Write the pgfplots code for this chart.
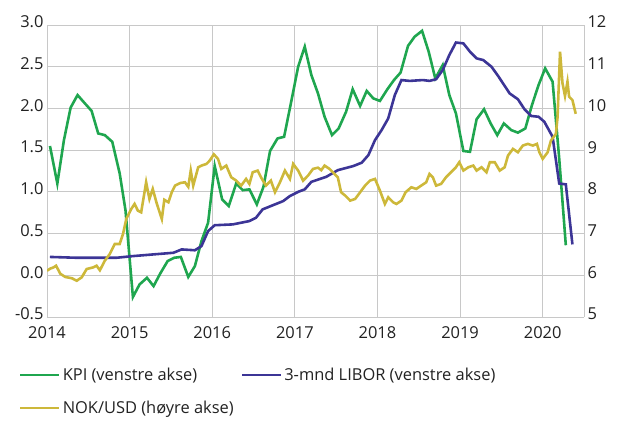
\documentclass[border=0pt]{standalone}
\usepackage{pgfplots}
\pgfplotsset{compat=1.18}
\usepackage{fontspec}
\setmainfont{Open Sans}
\definecolor{kpi}{HTML}{1FA64F}
\definecolor{libor}{HTML}{3C3596}
\definecolor{nok}{HTML}{CDB83A}
\definecolor{gridc}{HTML}{C8C8C8}
\definecolor{txt}{HTML}{222222}
\begin{document}
\begin{tikzpicture}
\pgfplotsset{
  base/.style={
    at={(0,0)}, anchor=south west,
    scale only axis, width=537bp, height=292bp,
    xmin=2014, xmax=2020.5,
    font=\fontsize{16.5}{19}\selectfont\color{txt},
    /pgf/number format/assume math mode=true,
    tick style={draw=none},
    axis line style={draw=gridc, line width=0.8pt},
  }
}
\begin{axis}[base,
  ymin=-0.5, ymax=3,
  ytick={-0.5,0,0.5,1,1.5,2,2.5,3},
  yticklabel style={yshift=3bp, /pgf/number format/.cd, fixed, fixed zerofill, precision=1},
  xtick={2014,2015,2016,2017,2018,2019,2020},
  xticklabels={2014,2015,2016,2017,2018,2019,2020},
  xticklabel style={yshift=-6bp},
  grid=major, major grid style={draw=gridc, line width=0.8pt},
  axis y line*=left, axis x line*=bottom,
  legend columns=2,
  legend style={at={(-31bp,-47bp)}, anchor=north west, draw=none, fill=none,
    font=\fontsize{16.5}{19}\selectfont\color{txt},
    /tikz/every even column/.append style={column sep=5bp},
    row sep=15bp},
  legend cell align=left,
  legend image code/.code={\draw[#1, line width=2.6pt] (0bp,0bp) -- (39bp,0bp);},
]
\addplot[kpi, line width=2.6pt] coordinates {
(2014.036,1.55)(2014.125,1.10)(2014.205,1.62)(2014.286,2.01)(2014.37,2.16)(2014.45,2.07)(2014.54,1.97)(2014.62,1.70)(2014.70,1.68)(2014.79,1.60)(2014.88,1.22)(2014.95,0.78)(2015.04,-0.26)(2015.12,-0.11)(2015.21,-0.03)(2015.29,-0.13)(2015.37,0.02)(2015.46,0.17)(2015.54,0.21)(2015.62,0.22)(2015.71,-0.02)(2015.79,0.11)(2015.87,0.41)(2015.95,0.63)(2016.03,1.31)(2016.12,0.91)(2016.20,0.83)(2016.29,1.10)(2016.37,1.02)(2016.45,1.03)(2016.54,0.85)(2016.62,1.06)(2016.70,1.49)(2016.79,1.64)(2016.87,1.66)(2016.96,2.10)(2017.04,2.50)(2017.12,2.74)(2017.20,2.40)(2017.28,2.18)(2017.36,1.90)(2017.45,1.68)(2017.53,1.76)(2017.62,1.96)(2017.70,2.23)(2017.79,2.03)(2017.87,2.21)(2017.95,2.12)(2018.03,2.09)(2018.12,2.23)(2018.20,2.34)(2018.28,2.43)(2018.37,2.75)(2018.45,2.86)(2018.54,2.93)(2018.62,2.68)(2018.70,2.36)(2018.79,2.52)(2018.87,2.16)(2018.95,1.94)(2019.04,1.49)(2019.12,1.48)(2019.20,1.87)(2019.29,1.99)(2019.37,1.82)(2019.45,1.68)(2019.53,1.82)(2019.62,1.74)(2019.70,1.71)(2019.79,1.76)(2019.87,2.04)(2019.95,2.28)(2020.03,2.48)(2020.12,2.32)(2020.20,1.40)(2020.28,0.36)
};
\addlegendentry{KPI (venstre akse)}
\addplot[libor, line width=2.6pt] coordinates {
(2014.036,0.22)(2014.36,0.21)(2014.84,0.21)(2015.04,0.23)(2015.53,0.27)(2015.63,0.31)(2015.79,0.30)(2015.87,0.35)(2015.95,0.53)(2016.03,0.60)(2016.25,0.61)(2016.45,0.65)(2016.53,0.69)(2016.61,0.79)(2016.86,0.89)(2016.94,0.95)(2017.04,1.00)(2017.12,1.03)(2017.20,1.12)(2017.38,1.18)(2017.52,1.26)(2017.71,1.31)(2017.81,1.35)(2017.89,1.44)(2017.97,1.62)(2018.05,1.74)(2018.13,1.88)(2018.21,2.16)(2018.29,2.34)(2018.39,2.33)(2018.55,2.34)(2018.63,2.33)(2018.71,2.35)(2018.79,2.46)(2018.87,2.64)(2018.95,2.79)(2019.04,2.78)(2019.12,2.68)(2019.20,2.60)(2019.28,2.58)(2019.38,2.50)(2019.46,2.39)(2019.60,2.18)(2019.70,2.11)(2019.78,1.99)(2019.86,1.91)(2019.95,1.90)(2020.02,1.84)(2020.12,1.66)(2020.20,1.10)(2020.28,1.09)(2020.36,0.37)
};
\addlegendentry{3-mnd LIBOR (venstre akse)}
\addlegendimage{nok, line width=2.6pt}
\addlegendentry{NOK/USD (høyre akse)}
\end{axis}
\begin{axis}[base,
  ymin=5, ymax=12, ytick={5,6,7,8,9,10,11,12},
  axis y line*=right, axis x line=none,
  yticklabel style={yshift=3bp},
]
\addplot[nok, line width=2.6pt] coordinates {
(2014.0,6.11)(2014.04,6.16)(2014.08,6.19)(2014.11,6.23)(2014.16,6.04)(2014.22,5.96)(2014.30,5.93)(2014.36,5.87)(2014.42,5.95)(2014.48,6.15)(2014.56,6.19)(2014.60,6.23)(2014.64,6.12)(2014.70,6.35)(2014.76,6.51)(2014.82,6.75)(2014.88,6.75)(2014.92,6.99)(2014.96,7.35)(2015.02,7.59)(2015.06,7.71)(2015.10,7.55)(2015.14,7.51)(2015.20,8.23)(2015.24,7.83)(2015.28,8.07)(2015.33,7.71)(2015.39,7.35)(2015.42,7.81)(2015.47,7.75)(2015.51,7.99)(2015.55,8.15)(2015.61,8.21)(2015.67,8.23)(2015.71,8.12)(2015.74,8.51)(2015.77,8.15)(2015.83,8.59)(2015.87,8.63)(2015.93,8.67)(2015.97,8.75)(2016.02,8.90)(2016.07,8.79)(2016.11,8.55)(2016.17,8.63)(2016.23,8.35)(2016.29,8.27)(2016.35,8.15)(2016.41,8.31)(2016.45,8.19)(2016.49,8.47)(2016.55,8.51)(2016.59,8.35)(2016.65,8.15)(2016.71,8.27)(2016.76,7.99)(2016.82,8.23)(2016.88,8.51)(2016.94,8.31)(2016.98,8.67)(2017.04,8.51)(2017.10,8.27)(2017.16,8.39)(2017.22,8.55)(2017.28,8.58)(2017.32,8.52)(2017.36,8.63)(2017.42,8.55)(2017.48,8.43)(2017.52,8.35)(2017.56,7.99)(2017.61,7.91)(2017.67,7.79)(2017.73,7.83)(2017.79,7.99)(2017.85,8.15)(2017.91,8.27)(2017.97,8.31)(2018.03,8.03)(2018.09,7.71)(2018.13,7.87)(2018.19,7.75)(2018.23,7.71)(2018.29,7.79)(2018.34,7.99)(2018.41,8.11)(2018.47,8.07)(2018.53,8.15)(2018.59,8.23)(2018.63,8.43)(2018.67,8.35)(2018.71,8.15)(2018.77,8.19)(2018.83,8.35)(2018.89,8.47)(2018.95,8.59)(2018.99,8.71)(2019.04,8.51)(2019.10,8.59)(2019.16,8.63)(2019.20,8.51)(2019.26,8.59)(2019.32,8.47)(2019.36,8.71)(2019.42,8.71)(2019.48,8.51)(2019.54,8.59)(2019.58,8.87)(2019.64,9.03)(2019.70,8.95)(2019.76,9.11)(2019.82,9.15)(2019.88,9.11)(2019.93,9.15)(2019.96,8.95)(2020.00,8.79)(2020.06,8.95)(2020.10,9.23)(2020.16,9.39)(2020.18,9.79)(2020.21,11.36)(2020.24,10.60)(2020.27,10.30)(2020.30,10.64)(2020.32,10.28)(2020.36,10.20)(2020.40,9.87)
};
\end{axis}
\pgfresetboundingbox
\path[use as bounding box] (-47bp,-104bp) rectangle (570bp,317bp);
\end{tikzpicture}
\end{document}
